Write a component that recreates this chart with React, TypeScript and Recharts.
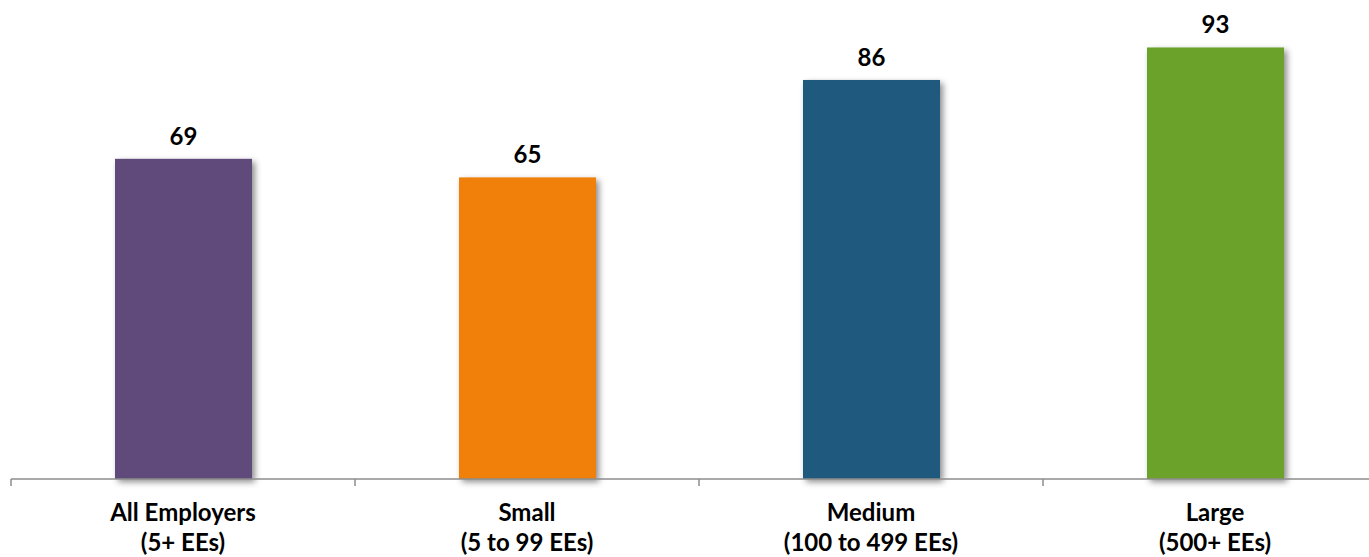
import React from 'react';
import { BarChart, Bar, XAxis, YAxis, Cell, LabelList } from 'recharts';

const categories = ['All Employers|(5+ EEs)', 'Small|(5 to 99 EEs)', 'Medium|(100 to 499 EEs)', 'Large|(500+ EEs)'];
const values = [69, 65, 86, 93];
const colors = ['#604A7B', '#F0800A', '#1F5A7E', '#6BA229'];

const chartData = categories.map((name, i) => ({ name, value: values[i] }));

const CHART_W = 1400;
const CHART_H = 557;
const MARGIN = { top: 15, right: 13, bottom: 0, left: 11 };
const HALF_STEP = (CHART_W - MARGIN.left - MARGIN.right) / categories.length / 2;
const FONT = 'Lato, "Open Sans", sans-serif';

const CategoryTick = (props: any) => {
  const { x, y, payload } = props;
  const [l1, l2] = String(payload.value).split('|');
  return (
    <g>
      <line x1={x - HALF_STEP} x2={x - HALF_STEP} y1={y - 8} y2={y - 1} stroke="#8c8c8c" strokeWidth={1.5} />
      <text x={x} y={y + 34} textAnchor="middle" fontFamily={FONT} fontWeight={700} fontSize={24} fill="#000">
        {l1}
      </text>
      <text x={x} y={y + 64} textAnchor="middle" fontFamily={FONT} fontWeight={700} fontSize={24} fill="#000">
        {l2}
      </text>
    </g>
  );
};

const ShadowBar = (props: any) => {
  const { x, y, width, height, fill } = props;
  return (
    <rect
      x={x}
      y={y}
      width={width}
      height={height}
      fill={fill}
      style={{ filter: 'drop-shadow(3px 3px 3px rgba(0,0,0,0.45))' }}
    />
  );
};

export default function App() {
  return (
    <div style={{ position: 'absolute', left: 0, top: 0, width: 1369, height: 557, overflow: 'hidden', background: '#fff' }}>
      <BarChart width={CHART_W} height={CHART_H} data={chartData} margin={MARGIN}>
        <YAxis hide domain={[0, 100]} />
        <XAxis
          dataKey="name"
          height={78}
          axisLine={{ stroke: '#8c8c8c', strokeWidth: 1.5 }}
          tickLine={false}
          tick={<CategoryTick />}
          interval={0}
        />
        <Bar dataKey="value" barSize={137} isAnimationActive={false} shape={<ShadowBar />}>
          {chartData.map((_, i) => (
            <Cell key={`c-${i}`} fill={colors[i]} />
          ))}
          <LabelList
            dataKey="value"
            position="top"
            offset={14}
            style={{ fontFamily: FONT, fontWeight: 700, fontSize: 24, fill: '#000' }}
          />
        </Bar>
      </BarChart>
    </div>
  );
}
